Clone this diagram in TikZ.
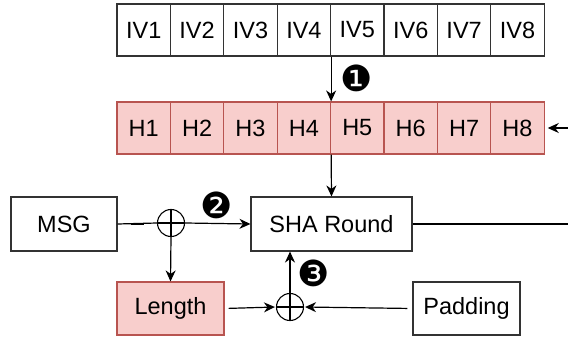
\documentclass[tikz,border=0pt]{standalone}
\usepackage{fontspec}
\setmainfont{Liberation Sans}
\newfontfamily\dingfont{DejaVu Sans}
\usetikzlibrary{arrows.meta}
\definecolor{pinkfill}{HTML}{F8CECC}
\definecolor{pinkdraw}{HTML}{B85450}
\begin{document}
\begin{tikzpicture}[x=1pt,y=-1pt,
  txt/.style={font=\fontsize{23.5}{26}\selectfont},
  cell/.style={txt, draw=black!80, line width=1.1pt, minimum width=53.4pt, minimum height=52pt, inner sep=0pt, anchor=center},
  hcell/.style={cell, fill=pinkfill, draw=pinkdraw},
  box/.style={txt, draw=black!80, line width=1.1pt, inner sep=0pt, anchor=center},
  xor/.style={circle, draw, line width=1.1pt, minimum size=27pt, inner sep=0pt,
    path picture={\draw[line width=1.1pt] (path picture bounding box.north) -- (path picture bounding box.south)
      (path picture bounding box.west) -- (path picture bounding box.east);}},
  arr/.style={-{Stealth[length=11pt,width=10pt,inset=3.5pt]}, line width=1.2pt},
  ln/.style={line width=1.2pt},
  num/.style={font=\dingfont\fontsize{36}{38}\selectfont, inner sep=0pt}
]
\useasboundingbox (0,0) rectangle (568,337);
\foreach \i in {1,...,8} {
  \node[cell] (iv\i) at ({117+53.4*(\i-0.5)},30) {IV\i};
  \node[hcell] (h\i) at ({117+53.4*(\i-0.5)},128) {H\i};
}
\node[box, minimum width=161pt, minimum height=54pt] (sha) at (331.5,224) {SHA Round};
\node[box, minimum width=106pt, minimum height=54pt] (msg) at (64,224) {MSG};
\node[box, minimum width=107pt, minimum height=53pt, fill=pinkfill, draw=pinkdraw] (len) at (170.5,308.5) {Length};
\node[box, minimum width=107pt, minimum height=53pt] (pad) at (466.5,308.5) {Padding};
\node[xor] (x1) at (171,223) {};
\node[xor] (x2) at (290,307) {};
\coordinate (hin) at (568,128);
\coordinate (shaout) at (568,224);

\draw[arr] (iv4.south east) -- (h4.north east);
\draw[arr] (h4.south east) -- (sha.north);
\draw[arr, shorten >=3pt] (hin) -- (h8.east);
\draw[ln] (sha.east) -- (shaout);
\draw[ln] (msg.east) -- (x1.west);
\draw[line width=2.4pt] (msg.east) ++(13,0) -- ++(13,0);
\draw[arr] (x1.east) -- (sha.west);
\draw[arr] (x1.south) -- (len.north);
\draw[arr, shorten <=4pt, shorten >=1pt] (len.east) -- (x2.west);
\draw[arr, shorten <=5pt, shorten >=1pt] (pad.west) -- (x2.east);
\draw[arr] (x2.north) -- (x2.north |- sha.south);

\node[num] (n1) at (357,78) {❶};
\node[num] (n2) at (217,205) {❷};
\node[num] (n3) at (314,273) {❸};
\end{tikzpicture}
\end{document}
